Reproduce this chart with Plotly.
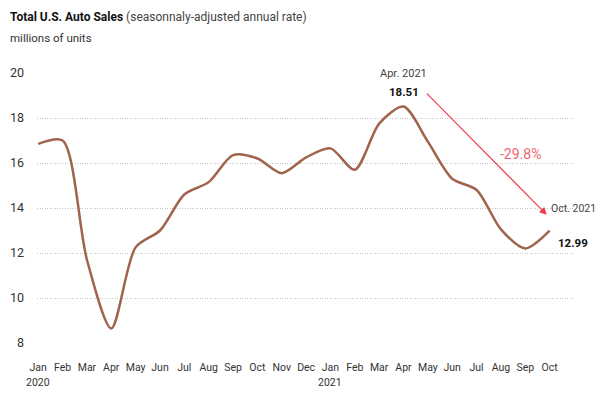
import plotly.graph_objects as go

months = ["Jan", "Feb", "Mar", "Apr", "May", "Jun", "Jul", "Aug", "Sep", "Oct", "Nov", "Dec",
          "Jan", "Feb", "Mar", "Apr", "May", "Jun", "Jul", "Aug", "Sep", "Oct"]
year_labels = {0: "2020", 12: "2021"}
sales = [16.85, 17.0, 11.7, 8.65, 12.25, 13.0, 14.6, 15.15, 16.35, 16.2, 15.55, 16.25,
         16.65, 15.7, 17.75, 18.51, 16.95, 15.3, 14.8, 13.05, 12.2, 12.99]
x = list(range(len(sales)))

FONT = "Roboto, Liberation Sans, sans-serif"
L, R, T, B = 37, 25, 73, 56
PW = 599 - L - R
PH = 399 - T - B


def px_x(p):
    return (p - L) / PW


def px_y(p):
    return (399 - B - p) / PH


fig = go.Figure()
fig.add_trace(go.Scatter(
    x=x, y=sales, mode="lines",
    line=dict(color="#a0634b", width=2.5, shape="spline", smoothing=0.8),
    hoverinfo="skip", showlegend=False,
))

annotations = [
    dict(xref="paper", yref="paper", x=px_x(8), y=px_y(17), xanchor="left",
         yanchor="middle", showarrow=False, align="left",
         text="<b>Total U.S. Auto Sales</b> <span style='color:#444'>(seasonnaly-adjusted annual rate)</span>",
         font=dict(size=12, color="#111111")),
    dict(xref="paper", yref="paper", x=px_x(8), y=px_y(38), xanchor="left",
         yanchor="middle", showarrow=False, text="millions of units",
         font=dict(size=11.5, color="#333333")),
    dict(x=15, y=20.0, xref="x", yref="y", text="Apr. 2021", showarrow=False,
         yanchor="middle", font=dict(size=11, color="#444444")),
    dict(x=15, y=19.15, xref="x", yref="y", text="<b>18.51</b>", showarrow=False,
         yanchor="middle", font=dict(size=11.5, color="#111111")),
    dict(x=px_x(598), y=14.0, xref="paper", yref="y", text="Oct. 2021", showarrow=False,
         xanchor="right", yanchor="middle", font=dict(size=10.5, color="#444444")),
    dict(x=px_x(590), y=12.45, xref="paper", yref="y", text="<b>12.99</b>", showarrow=False,
         xanchor="right", yanchor="middle", font=dict(size=11.5, color="#111111")),
    dict(x=19.8, y=16.4, xref="x", yref="y", text="-29.8%", showarrow=False,
         yanchor="middle", font=dict(size=14, color="#f06470")),
    dict(x=20.88, y=13.7, xref="x", yref="y", ax=15.9, ay=19.15, axref="x", ayref="y",
         text="", showarrow=True, arrowhead=2, arrowsize=1.2, arrowwidth=1.2,
         arrowcolor="#f03a4c", standoff=0, startstandoff=0),
]
for i, yr in year_labels.items():
    annotations.append(dict(x=i, y=px_y(382), xref="x", yref="paper", text=yr,
                            showarrow=False, yanchor="middle",
                            font=dict(size=10.5, color="#333333")))

fig.update_layout(
    width=599, height=399,
    margin=dict(l=L, r=R, t=T, b=B),
    paper_bgcolor="white", plot_bgcolor="white",
    font=dict(family=FONT, size=11, color="#333333"),
    xaxis=dict(
        range=[-0.05, 22], tickmode="array", tickvals=x, ticktext=months,
        showgrid=False, zeroline=False, showline=False, ticks="", tickangle=0,
        automargin=False, ticklabelstandoff=16,
        tickfont=dict(size=10.5, color="#333333"), fixedrange=True,
    ),
    yaxis=dict(
        range=[8, 20], tickvals=[8, 10, 12, 14, 16, 18, 20],
        showgrid=True, gridcolor="#c4c4c4", griddash="1px,1.5px", gridwidth=1,
        zeroline=False, showline=False, ticks="", ticklabelstandoff=12,
        automargin=False,
        tickfont=dict(size=12.5, color="#333333"), fixedrange=True,
    ),
    annotations=annotations,
)

fig.write_html("out.html", config={"displayModeBar": False},
               post_script="document.body.style.margin='0';document.body.style.overflow='hidden';")
